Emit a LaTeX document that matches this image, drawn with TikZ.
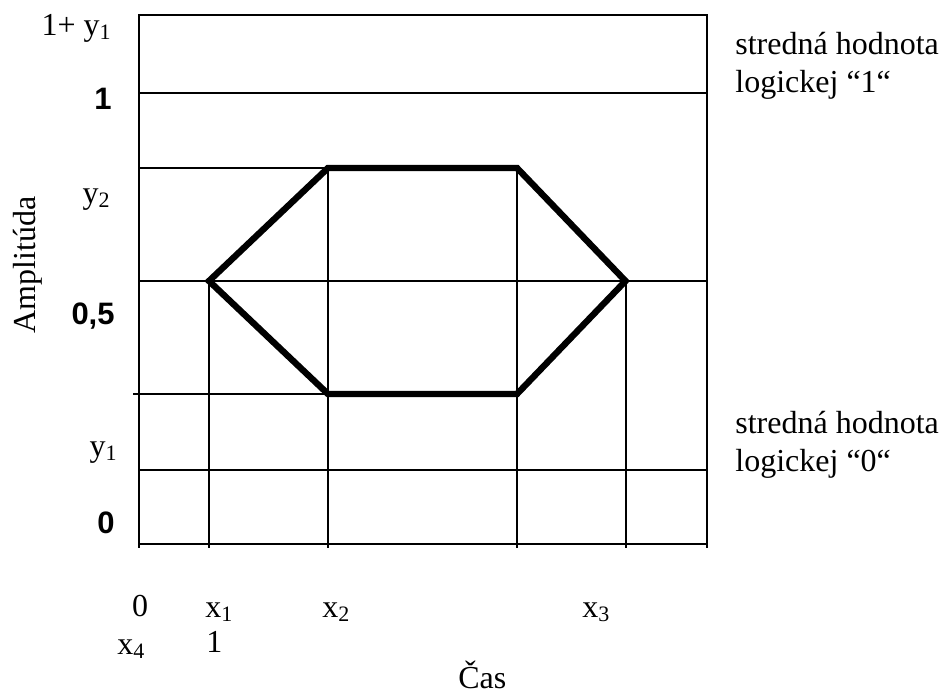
\documentclass[tikz,border=0pt]{standalone}
\usepackage{fontspec}
\setmainfont{Liberation Serif}
\newfontfamily\boldsans{Liberation Sans}
\newcommand{\dolny}[1]{\raisebox{-0.12em}{\fontsize{11}{12}\selectfont #1}}
\begin{document}
\begin{tikzpicture}[x=0.5pt,y=-0.5pt,
	grid/.style={line width=1pt},
	signal/.style={line width=3.2pt,line join=miter},
	lbl/.style={inner sep=0pt,font=\fontsize{16}{19}\selectfont},
	num/.style={inner sep=0pt,font=\boldsans\bfseries\fontsize{15.5}{17}\selectfont}]
	\useasboundingbox (0,0) rectangle (939,694);
	
	% Ramcek a mriezka
	\draw[grid] (139,548) -- (139,15.5) -- (707,15.5) -- (707,548);
	\draw[grid] (139,544) -- (707,544);
	\draw[grid] (139,93) -- (707,93);
	\draw[grid] (139,281) -- (707,281);
	\draw[grid] (139,470.5) -- (707,470.5);
	\draw[grid] (139,168) -- (328,168);
	\draw[grid] (133,394) -- (328,394);
	
	\draw[grid] (209,281) -- (209,548);
	\draw[grid] (328,168) -- (328,548);
	\draw[grid] (517,168) -- (517,548);
	\draw[grid] (625.5,281) -- (625.5,548);
	
	% Oko - signal
	\draw[signal] (209,281) -- (328,168) -- (517,168) -- (625.5,281) -- (517,394) -- (328,394) -- cycle;
	
	% Popisy osi y
	\node[lbl,anchor=base east] (y1top) at (111,36) {1+ y\dolny{1}};
	\node[num,anchor=base east] (jedna) at (112,110) {1};
	\node[lbl,anchor=base east] (y2) at (110,204) {y\dolny{2}};
	\node[num,anchor=base east] (pol) at (115,325) {0,5};
	\node[lbl,anchor=base east] (y1) at (117,457) {y\dolny{1}};
	\node[num,anchor=base east] (nula) at (115,534) {0};
	\node[lbl,anchor=base,rotate=90] (amp) at (35,265) {Amplitúda};
	
	% Popisy osi x
	\node[lbl,anchor=base] (x0) at (140,617) {0};
	\node[lbl,anchor=base west] (x1) at (205,618) {x\dolny{1}};
	\node[lbl,anchor=base west] (x2) at (322,618) {x\dolny{2}};
	\node[lbl,anchor=base west] (x3) at (582,618) {x\dolny{3}};
	\node[lbl,anchor=base west] (x4) at (117,655) {x\dolny{4}};
	\node[lbl,anchor=base west] (xjedna) at (206,653) {1};
	\node[lbl,anchor=base west] (cas) at (458,689) {Čas};
	
	% Stredne hodnoty
	\node[lbl,anchor=base west,align=left] (log1) at (735,93) {stredná hodnota\\logickej “1“};
	\node[lbl,anchor=base west,align=left] (log0) at (735,472) {stredná hodnota\\logickej “0“};
	
\end{tikzpicture}
\end{document}
